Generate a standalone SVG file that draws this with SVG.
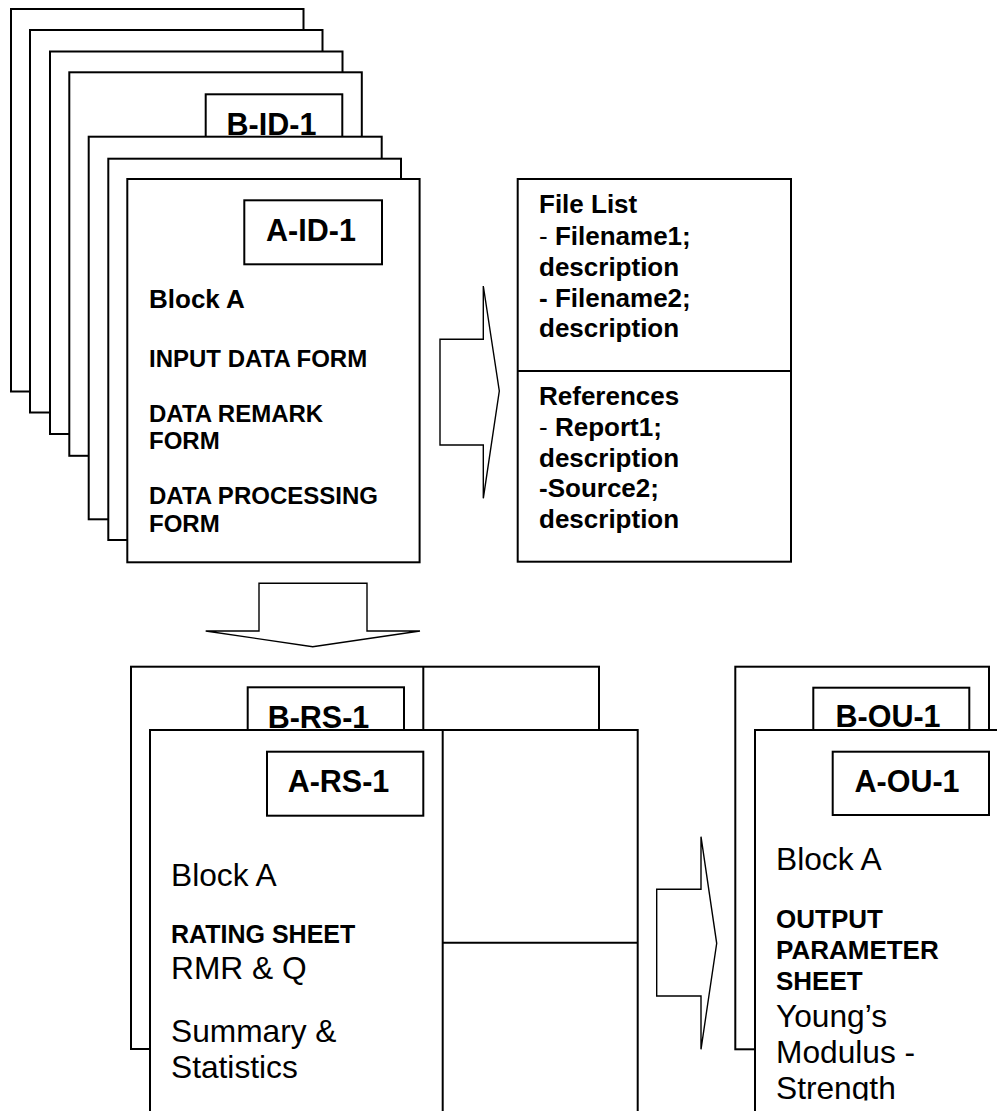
<svg xmlns="http://www.w3.org/2000/svg" width="997" height="1111" viewBox="0 0 997 1111">
<style>
.pg{fill:#fff;stroke:#000;stroke-width:2}
.ln{fill:none;stroke:#000;stroke-width:2}
.ar{fill:#fff;stroke:#000;stroke-width:1.4;stroke-linejoin:miter}
text{font-family:"Liberation Sans",Arial,sans-serif;fill:#000}
.id{font-size:30.5px;font-weight:bold;text-anchor:middle}
.b26{font-size:26px;font-weight:bold}
.b24{font-size:24px;font-weight:bold}
.b25{font-size:25px;font-weight:bold}
.r32{font-size:31.7px}
.rg{font-weight:normal}
</style>
<defs>
<clipPath id="clipBottom"><rect x="0" y="0" width="997" height="1100.5"/></clipPath>
</defs>
<rect width="997" height="1111" fill="#fff"/>

<g id="input-stack">
<rect class="pg" x="11" y="9" width="292.5" height="382.5"/>
<rect class="pg" x="30" y="30" width="292.5" height="382.5"/>
<rect class="pg" x="50" y="51.5" width="292.5" height="382.5"/>
<rect class="pg" x="69.3" y="72.3" width="292.5" height="383.5"/>
<rect class="pg" x="205.7" y="94.3" width="136.6" height="64"/>
<text class="id" x="271.5" y="134.7">B-ID-1</text>
<rect class="pg" x="88.7" y="136.7" width="293" height="382.6"/>
<rect class="pg" x="108.3" y="158.7" width="292.7" height="381.3"/>
<rect class="pg" x="127.3" y="179" width="292.3" height="383.3"/>
<rect class="pg" x="244.3" y="200.3" width="137.7" height="64"/>
<text class="id" x="311" y="240.7">A-ID-1</text>
<text class="b26" x="149" y="307.8">Block A</text>
<text class="b24" x="149" y="366.5">INPUT DATA FORM</text>
<text class="b24" x="149" y="421.7">DATA REMARK</text>
<text class="b24" x="149" y="449.3">FORM</text>
<text class="b24" x="149" y="504">DATA PROCESSING</text>
<text class="b24" x="149" y="531.7">FORM</text>
</g>

<g id="file-list">
<rect class="pg" x="517.7" y="179" width="273.3" height="382.7"/>
<line class="ln" x1="517.7" y1="371" x2="791" y2="371"/>
<text class="b26" x="539" y="213.3">File List</text>
<text class="b26" x="539" y="245"><tspan class="rg">- </tspan>Filename1;</text>
<text class="b26" x="539" y="275.5">description</text>
<text class="b26" x="539" y="306.5">- Filename2;</text>
<text class="b26" x="539" y="336.5">description</text>
<text class="b26" x="539" y="405">References</text>
<text class="b26" x="539" y="436"><tspan class="rg">- </tspan>Report1;</text>
<text class="b26" x="539" y="466.5">description</text>
<text class="b26" x="539" y="497">-Source2;</text>
<text class="b26" x="539" y="527.7">description</text>
</g>

<g id="rating-stack">
<rect class="pg" x="131" y="666.7" width="468" height="382.3"/>
<line class="ln" x1="423.3" y1="666.7" x2="423.3" y2="1049"/>
<rect class="pg" x="247.7" y="687.3" width="156.3" height="64"/>
<text class="id" x="318.5" y="727.7">B-RS-1</text>
<rect class="pg" x="150" y="730" width="487.7" height="400"/>
<line class="ln" x1="442.7" y1="730" x2="442.7" y2="1111"/>
<line class="ln" x1="442.7" y1="942.7" x2="637.7" y2="942.7"/>
<rect class="pg" x="267" y="751.7" width="156.3" height="64"/>
<text class="id" x="338.5" y="791.7">A-RS-1</text>
<text class="r32" x="171" y="885.7">Block A</text>
<text class="b25" x="171" y="942.7">RATING SHEET</text>
<text class="r32" x="171" y="979.3">RMR &amp; Q</text>
<text class="r32" x="171" y="1041.7">Summary &amp;</text>
<text class="r32" x="171" y="1078.3">Statistics</text>
</g>

<g id="output-stack">
<rect class="pg" x="735.3" y="666.7" width="253.7" height="382.6"/>
<rect class="pg" x="813.3" y="687.7" width="156" height="64"/>
<text class="id" x="888" y="727">B-OU-1</text>
<rect class="pg" x="755" y="730" width="260" height="400"/>
<rect class="pg" x="832.7" y="751.7" width="156.3" height="63.3"/>
<text class="id" x="907" y="791.7">A-OU-1</text>
<text class="r32" x="776" y="870">Block A</text>
<text class="b26" x="776" y="928.3">OUTPUT</text>
<text class="b26" x="776" y="959">PARAMETER</text>
<text class="b26" x="776" y="990">SHEET</text>
<text class="r32" x="776" y="1027">Young’s</text>
<text class="r32" x="776" y="1063">Modulus -</text>
<text class="r32" x="776" y="1099" clip-path="url(#clipBottom)">Strength</text>
</g>

<g id="connectors">
<polygon class="ar" points="440,339.3 483.3,339.3 483.3,286 499.3,391 483.3,498.3 483.3,445 440,445"/>
<polygon class="ar" points="259,583.3 367,583.3 367,631 420,631 312.7,646.7 205.7,631 259,631"/>
<polygon class="ar" points="656.7,889.3 701,889.3 701,836.7 716.7,943.3 701,1049.3 701,996 656.7,996"/>
</g>
</svg>
